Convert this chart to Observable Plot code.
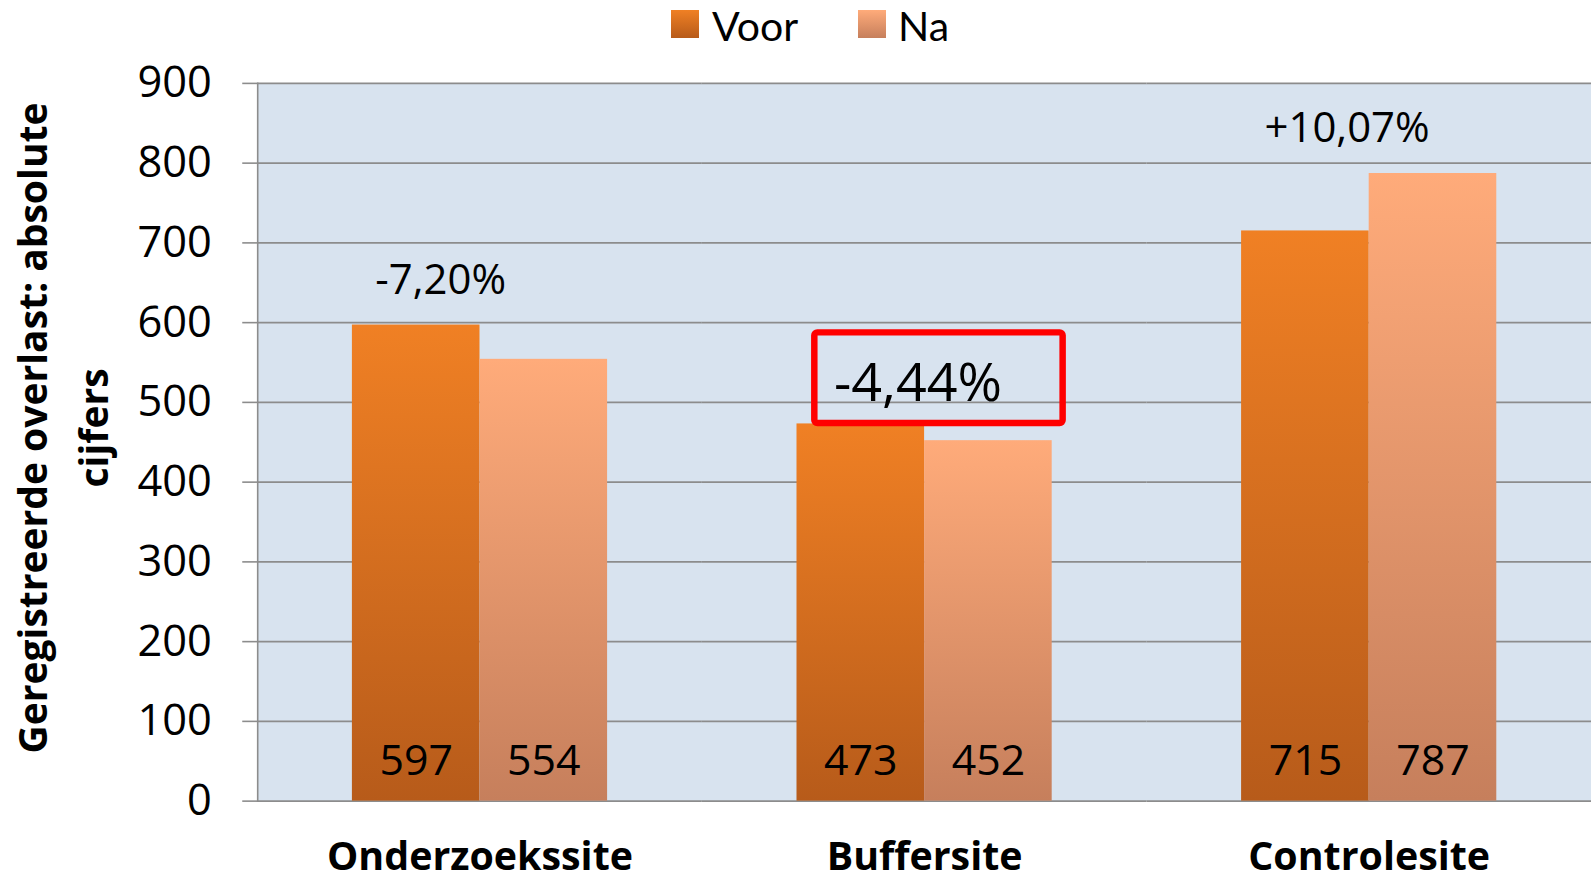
<!DOCTYPE html>
<html><head><meta charset="utf-8">
<script src="https://cdn.jsdelivr.net/npm/d3@7"></script>
<script src="https://cdn.jsdelivr.net/npm/@observablehq/plot@0.6"></script>
<style>
body{margin:0;background:#fff;font-family:"Open Sans",sans-serif;}
#wrap{position:relative;width:1591px;height:885px;overflow:hidden;background:#fff}
#legend{position:absolute;top:0;left:0;width:1591px;height:50px}
.sw{position:absolute;width:28px;height:28px;top:10px}
.lt{position:absolute;top:1px;font-family:Lato,"Open Sans",sans-serif;font-size:41px;line-height:50px;color:#000}
#ytitle{position:absolute;left:62px;top:428px;width:760px;transform:translate(-50%,-50%) rotate(-90deg);text-align:center;font-weight:bold;font-size:39px;line-height:61px;white-space:nowrap;color:#000}
#chart{position:absolute;top:50px;left:0}
</style></head><body>
<div id="wrap">
  <div id="legend"></div>
  <div id="ytitle"></div>
  <div id="chart"></div>
</div>
<script>
const sites = ["Onderzoekssite", "Buffersite", "Controlesite"];
const series = ["Voor", "Na"];
const voor = [597, 473, 715];
const na = [554, 452, 787];
const changes = ["-7,20%", "-4,44%", "+10,07%"];
const highlighted = "Buffersite";
const yTicks = [0, 100, 200, 300, 400, 500, 600, 700, 800, 900];
const yTitle = ["Geregistreerde overlast: absolute", "cijfers"];

const grad = {
  Voor: ["#f08024", "#b75b1a"],
  Na: ["#ffab7a", "#c67f5c"]
};

const data = sites.flatMap((s, i) => [
  {site: s, series: "Voor", value: voor[i]},
  {site: s, series: "Na", value: na[i]}
]);
const pct = sites.map((s, i) => ({site: s, label: changes[i], top: Math.max(voor[i], na[i])}));

// legend
const legend = document.getElementById("legend");
const legPos = {Voor: [671, 712], Na: [858, 898]};
series.forEach(k => {
  const sw = document.createElement("div");
  sw.className = "sw";
  sw.style.left = legPos[k][0] + "px";
  sw.style.background = `linear-gradient(${grad[k][0]}, ${grad[k][1]})`;
  legend.appendChild(sw);
  const t = document.createElement("div");
  t.className = "lt";
  t.style.left = legPos[k][1] + "px";
  t.textContent = k;
  legend.appendChild(t);
});
document.getElementById("ytitle").innerHTML = yTitle.join("<br>");

const gray = "#8c8c8c";
const chart = Plot.plot({
  width: 1596, height: 835,
  marginTop: 33, marginBottom: 82, marginLeft: 257, marginRight: 0,
  style: {fontFamily: "Open Sans", background: "transparent", overflow: "visible", color: "#000"},
  fx: {domain: sites, padding: 0, label: null},
  x: {domain: series, paddingInner: 0, paddingOuter: 0.74, axis: null},
  y: {domain: [0, 900], label: null},
  marks: [
    Plot.frame({fill: "#d8e3ef", stroke: "none", facet: "super"}),
    Plot.gridY(yTicks, {stroke: gray, strokeOpacity: 1, strokeWidth: 1.6}),
    Plot.axisY(yTicks, {tickSize: 15, tickPadding: 31, fontSize: 43.5, stroke: gray, strokeWidth: 1.6, fill: "#000", label: null}),
    Plot.frame({anchor: "left", stroke: gray, strokeWidth: 1.6, facet: "super"}),
    Plot.barY(data.filter(d => d.series === "Voor"), {fx: "site", x: "series", y: "value", fill: "url(#gVoor)", style: "filter: drop-shadow(3px 1px 3px rgba(0,0,0,0.28))"}),
    Plot.barY(data.filter(d => d.series === "Na"), {fx: "site", x: "series", y: "value", fill: "url(#gNa)", style: "filter: drop-shadow(3px 1px 3px rgba(0,0,0,0.28))"}),
    Plot.text(data, {fx: "site", x: "series", y: 0, text: d => String(d.value), dy: -40, fontSize: 43, fill: "#000", lineAnchor: "middle"}),
    Plot.text(pct.filter(d => d.site !== highlighted), {fx: "site", y: "top", text: "label", dy: -45, dx: -105, textAnchor: "start", lineAnchor: "middle", fill: "#000", fontSize: 42}),
    Plot.text(pct.filter(d => d.site === highlighted), {fx: "site", y: "top", text: "label", dy: -40, dx: -91, textAnchor: "start", lineAnchor: "middle", fill: "#000", fontSize: 54}),
    Plot.axisFx({anchor: "bottom", tickSize: 0, tickPadding: 41, fontSize: 39.5, fontWeight: "bold", fill: "#000", label: null})
  ]
});
document.getElementById("chart").appendChild(chart);

const svg = d3.select(chart.tagName.toLowerCase() === "svg" ? chart : chart.querySelector("svg"));
const defs = svg.insert("defs", ":first-child");
series.forEach(k => {
  const g = defs.append("linearGradient").attr("id", "g" + k).attr("x1", 0).attr("y1", 0).attr("x2", 0).attr("y2", 1);
  g.append("stop").attr("offset", "0%").attr("stop-color", grad[k][0]);
  g.append("stop").attr("offset", "100%").attr("stop-color", grad[k][1]);
});

// red highlight box around the highlighted change label
const hiIdx = sites.indexOf(highlighted);
const tnode = svg.selectAll("text").filter(function() { return this.textContent === changes[hiIdx]; }).node();
if (tnode) {
  const sr = svg.node().getBoundingClientRect();
  const b = tnode.getBoundingClientRect();
  const cy = (b.top + b.bottom) / 2 - sr.top;
  svg.append("rect")
    .attr("x", b.left - sr.left - 17)
    .attr("y", cy - 47)
    .attr("width", b.width + 17 + 64)
    .attr("height", 91)
    .attr("rx", 3)
    .attr("fill", "none")
    .attr("stroke", "#ff0000")
    .attr("stroke-width", 6.5);
}
</script>
</body></html>
